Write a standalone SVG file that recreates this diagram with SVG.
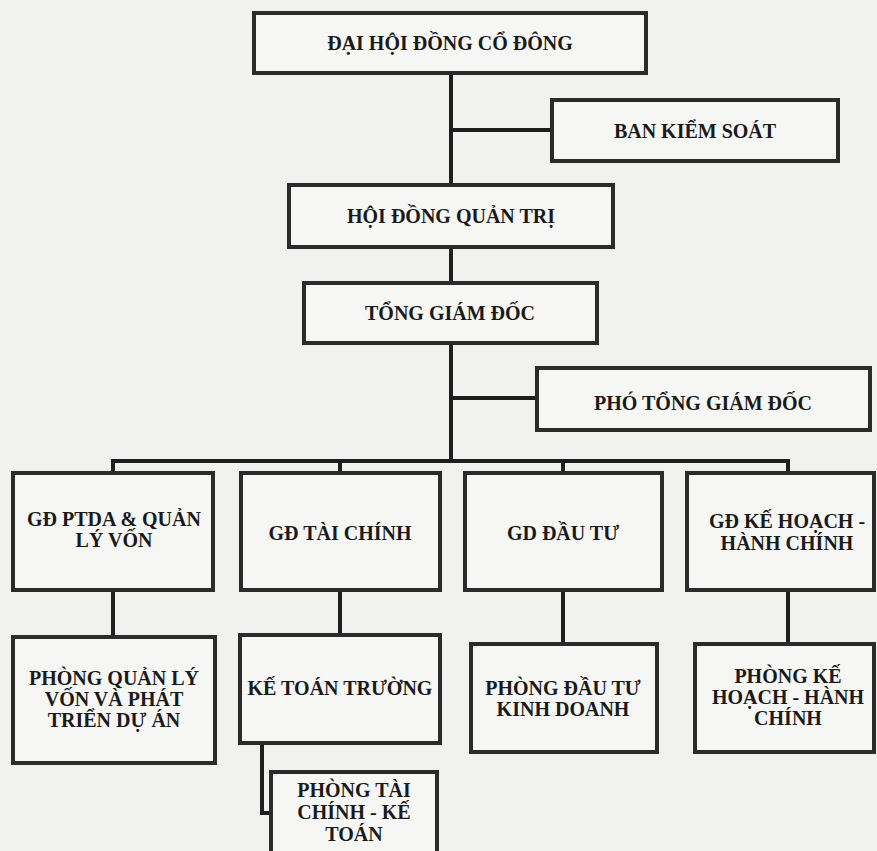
<svg xmlns="http://www.w3.org/2000/svg" width="877" height="851" viewBox="0 0 877 851">
<style>
.bg{fill:#f1f1ef}
.box{fill:#f6f6f4;stroke:#2b2b2b;stroke-width:4}
.ln{fill:none;stroke:#1e1e1e;stroke-width:4}
text{font-family:"Liberation Serif","Times New Roman",serif;font-weight:bold;font-size:20px;fill:#1a1a1a;text-anchor:middle}
</style>
<rect class="bg" x="0" y="0" width="877" height="851"/>
<g id="connectors">
<path class="ln" d="M451 73V185M451 130H552M451 247V283M451 343V461M451 398H537"/>
<path class="ln" d="M113 461H788M113 459V473M340 461V473M563 461V473M788 459V473"/>
<path class="ln" d="M113 590V637M340 590V635M563 590V644M788 590V644"/>
<path class="ln" d="M262 743V813H271"/>
</g>
<g id="dhdcd"><rect class="box" x="254" y="13" width="392" height="60"/><text x="450" y="50">ĐẠI HỘI ĐỒNG CỔ ĐÔNG</text></g>
<g id="bks"><rect class="box" x="552" y="100" width="286" height="61"/><text x="695" y="138">BAN KIỂM SOÁT</text></g>
<g id="hdqt"><rect class="box" x="289" y="185" width="324" height="62"/><text x="451" y="223">HỘI ĐỒNG QUẢN TRỊ</text></g>
<g id="tgd"><rect class="box" x="304" y="283" width="293" height="60"/><text x="450" y="320">TỔNG GIÁM ĐỐC</text></g>
<g id="ptgd"><rect class="box" x="537" y="368" width="333" height="62"/><text x="703" y="410">PHÓ TỔNG GIÁM ĐỐC</text></g>
<g id="gd-ptda"><rect class="box" x="13" y="473" width="200" height="117"/><text x="114" y="526">GĐ PTDA &amp; QUẢN</text><text x="114" y="547">LÝ VỐN</text></g>
<g id="gd-tc"><rect class="box" x="241" y="473" width="199" height="117"/><text x="340" y="540">GĐ TÀI CHÍNH</text></g>
<g id="gd-dt"><rect class="box" x="465" y="473" width="197" height="117"/><text x="563" y="540">GD ĐẦU TƯ</text></g>
<g id="gd-kh"><rect class="box" x="687" y="473" width="187" height="117"/><text x="787" y="528">GĐ KẾ HOẠCH -</text><text x="787" y="550">HÀNH CHÍNH</text></g>
<g id="p-qlv"><rect class="box" x="13" y="637" width="202" height="126"/><text x="114" y="685">PHÒNG QUẢN LÝ</text><text x="114" y="706">VỐN VÀ PHÁT</text><text x="114" y="727">TRIỂN DỰ ÁN</text></g>
<g id="ktt"><rect class="box" x="240" y="635" width="200" height="108"/><text x="340" y="695">KẾ TOÁN TRƯỜNG</text></g>
<g id="p-dtkd"><rect class="box" x="471" y="644" width="186" height="108"/><text x="563" y="695">PHÒNG ĐẦU TƯ</text><text x="563" y="716">KINH DOANH</text></g>
<g id="p-khhc"><rect class="box" x="695" y="644" width="179" height="108"/><text x="788" y="683">PHÒNG KẾ</text><text x="788" y="704">HOẠCH - HÀNH</text><text x="788" y="725">CHÍNH</text></g>
<g id="p-tckt"><rect class="box" x="271" y="772" width="166" height="95"/><text x="354" y="797">PHÒNG TÀI</text><text x="354" y="819">CHÍNH - KẾ</text><text x="354" y="841">TOÁN</text></g>
</svg>
